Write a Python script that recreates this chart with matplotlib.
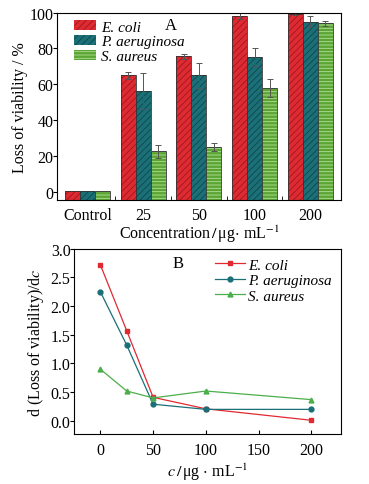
import numpy as np
import matplotlib
matplotlib.use('Agg')
import matplotlib.pyplot as plt

plt.rcParams['font.family'] = ['Liberation Serif', 'DejaVu Serif']
plt.rcParams['mathtext.fontset'] = 'stix'
plt.rcParams['font.size'] = 11.5
plt.rcParams['hatch.linewidth'] = 0.6

# panel A data
groups = ['Control', '25', '50', '100', '200']
ecoli = [0.5, 65, 75.5, 98, 99]
ecoli_err = [0, 2, 1.5, 1.5, 0.5]
paer = [0.5, 56, 65, 75, 95]
paer_err = [0, 10, 7, 5, 3]
saur = [0.5, 22.5, 25, 58, 94]
saur_err = [0, 3.5, 2, 5, 1.5]

# panel B data
conc = [0, 25, 50, 100, 200]
d_ecoli = [2.72, 1.57, 0.41, 0.21, 0.01]
d_paer = [2.25, 1.32, 0.29, 0.20, 0.20]
d_saur = [0.90, 0.52, 0.40, 0.52, 0.37]

red = '#e02a32'
teal = '#1b7078'
green = '#5aa534'
leg_font = {'family': 'Liberation Serif', 'style': 'italic', 'size': 11}

fig = plt.figure(figsize=(3.69, 4.85), dpi=100)

# ---- panel A ----
ax = fig.add_axes([0.154, 0.586, 0.770, 0.386])
x = np.arange(len(groups))
w = 0.27
ybot = -4.5
series = [(ecoli, ecoli_err, red, '#9a1820', '/////', 'E. coli'),
          (paer, paer_err, teal, '#0e464c', '/////', 'P. aeruginosa'),
          (saur, saur_err, green, '#b4df96', '-----', 'S. aureus')]
for i, (vals, errs, fc, hc, hatch, lab) in enumerate(series):
    pos = x + (i - 1) * w
    h = np.array(vals) - ybot
    ax.bar(pos, h, w, bottom=ybot, color=fc, edgecolor=hc, hatch=hatch,
           linewidth=0, label=lab)
    ax.bar(pos, h, w, bottom=ybot, fill=False, edgecolor='#333333', linewidth=0.6)
    ax.errorbar(pos[1:], np.array(vals)[1:], yerr=np.array(errs)[1:], fmt='none',
                ecolor='#555555', elinewidth=0.7, capsize=2, capthick=0.7)

ax.set_xlim(-0.55, 4.55)
ax.set_ylim(ybot, 100)
ax.set_yticks([0, 20, 40, 60, 80, 100])
ax.set_xticks(x)
ax.set_xticklabels(groups)
ax.tick_params(axis='x', length=0, pad=5)
ax.set_xticks(x[:-1] + 0.5, minor=True)
ax.tick_params(axis='x', which='minor', direction='in', length=3)
ax.tick_params(axis='y', direction='out', length=3, pad=-0.5)
ax.set_ylabel('Loss of viability / %', labelpad=1)
ax.set_xlabel(r'Concentration$\,/\,$μg$\cdot$ mL$^{-1}$', labelpad=0)
ax.legend(loc='upper left', bbox_to_anchor=(0.045, 0.985), frameon=False,
          handlelength=1.4, handleheight=0.68, labelspacing=0.08, handletextpad=0.35,
          borderaxespad=0.0, borderpad=0.3, prop=leg_font)
ax.text(0.40, 0.935, 'A', transform=ax.transAxes, ha='center', va='center', fontsize=12)

# ---- panel B ----
ax2 = fig.add_axes([0.2005, 0.103, 0.7235, 0.382])
ax2.plot(conc, d_ecoli, '-s', color=red, lw=0.9, ms=3.5, label='E. coli')
ax2.plot(conc, d_paer, '-o', color=teal, lw=0.9, ms=3.5, label='P. aeruginosa')
ax2.plot(conc, d_saur, '-^', color='#4cae4c', lw=0.9, ms=3.5, label='S. aureus')
ax2.set_xlim(-25, 228)
ax2.set_ylim(-0.23, 3.0)
ax2.set_xticks([0, 50, 100, 150, 200])
ax2.set_yticks([0.0, 0.5, 1.0, 1.5, 2.0, 2.5, 3.0])
ax2.set_yticklabels(['0.0', '0.5', '1.0', '1.5', '2.0', '2.5', '3.0'])
ax2.tick_params(axis='x', direction='in', length=3, pad=6)
ax2.tick_params(axis='y', direction='out', length=3, pad=-0.5)
ax2.set_ylabel(r'd (Loss of viability)/d$c$', labelpad=3)
ax2.set_xlabel(r'$c\,/\,$μg $\cdot$ mL$^{-1}$', labelpad=2)
ax2.legend(loc='upper right', frameon=False, handlelength=2.0, labelspacing=0.12,
           handletextpad=0.2, borderaxespad=0.2, borderpad=0.4, prop=leg_font)
ax2.text(0.39, 0.925, 'B', transform=ax2.transAxes, ha='center', va='center', fontsize=12)

fig.savefig('out.png', dpi=100)
